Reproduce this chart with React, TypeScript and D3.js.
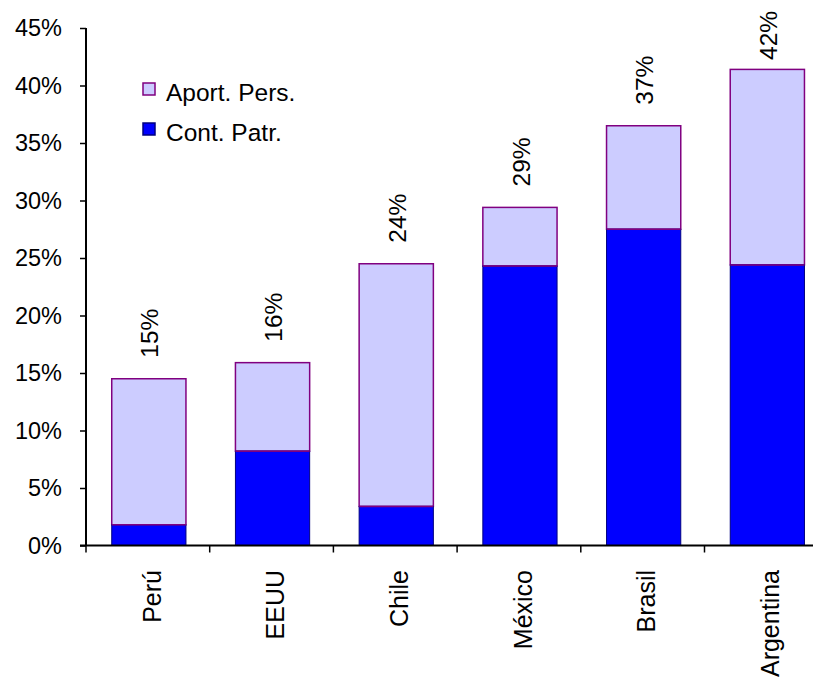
import { useEffect, useRef } from 'react'
import * as d3 from 'd3'

const COUNTRIES = ['Perú', 'EEUU', 'Chile', 'México', 'Brasil', 'Argentina']
// Contribución patronal (%)
const CONT_PATR = [1.8, 8.2, 3.4, 24.3, 27.5, 24.4]
// Aporte personal (%)
const APORT_PERS = [12.7, 7.7, 21.1, 5.1, 9.0, 17.0]
const TOTAL_LABELS = ['15%', '16%', '24%', '29%', '37%', '42%']
const Y_TICKS = [0, 5, 10, 15, 20, 25, 30, 35, 40, 45]

const SERIES = [
  { name: 'Aport. Pers.', fill: '#CCCCFF', stroke: '#800080' },
  { name: 'Cont. Patr.', fill: '#0000FF', stroke: '#000080' },
]

const FONT = '"Liberation Sans", Arial, sans-serif'

export default function App() {
  const svgRef = useRef<SVGSVGElement>(null)
  const WIDTH = 813
  const HEIGHT = 681
  const X0 = 86
  const STEP = 123.7
  const Y_TOP = 28
  const Y_BASE = 545.5

  useEffect(() => {
    if (!svgRef.current) return
    const svg = d3.select(svgRef.current)
    svg.selectAll('*').remove()

    const x = d3.scaleBand<string>()
      .domain(COUNTRIES)
      .range([X0 + 1, X0 + 1 + STEP * COUNTRIES.length])
      .paddingInner(0.4)
      .paddingOuter(0.2)
    const y = d3.scaleLinear().domain([0, 45]).range([Y_BASE, Y_TOP])

    const rows = COUNTRIES.map((c, i) => ({
      country: c,
      cont: CONT_PATR[i],
      total: CONT_PATR[i] + APORT_PERS[i],
      label: TOTAL_LABELS[i],
    }))

    // stacked bars: aporte on top
    rows.forEach(r => {
      const bx = x(r.country)!
      const bw = x.bandwidth()
      svg.append('rect')
        .attr('x', bx).attr('y', y(r.total))
        .attr('width', bw).attr('height', y(r.cont) - y(r.total))
        .attr('fill', SERIES[0].fill)
        .attr('stroke', SERIES[0].stroke).attr('stroke-width', 1.5)
      svg.append('rect')
        .attr('x', bx).attr('y', y(r.cont))
        .attr('width', bw).attr('height', y(0) - y(r.cont))
        .attr('fill', SERIES[1].fill)
        .attr('stroke', SERIES[1].stroke).attr('stroke-width', 1)
      // divider drawn in purple like the reference
      svg.append('line')
        .attr('x1', bx).attr('x2', bx + bw)
        .attr('y1', y(r.cont)).attr('y2', y(r.cont))
        .attr('stroke', SERIES[0].stroke).attr('stroke-width', 1.5)

      // total label, rotated
      const ly = Math.max(y(r.total) - 21, 60)
      svg.append('text')
        .attr('transform', `translate(${bx + bw / 2 + 1},${ly}) rotate(-90)`)
        .attr('dy', '0.35em')
        .attr('font-family', FONT).attr('font-size', 24.5)
        .attr('fill', '#000')
        .text(r.label)
    })

    // y axis
    const yAxis = svg.append('g')
      .attr('transform', `translate(${X0},0)`)
      .call(d3.axisLeft(y).tickValues(Y_TICKS).tickSize(6).tickPadding(18)
        .tickFormat(d => `${d}%`))
    yAxis.select('.domain').attr('stroke', '#000').attr('stroke-width', 2)
      .attr('d', `M0,${Y_TOP}V${Y_BASE}`)
    yAxis.selectAll('.tick line').attr('stroke', '#000').attr('stroke-width', 1.5)
    yAxis.selectAll('text')
      .attr('font-family', FONT).attr('font-size', 23.5).attr('fill', '#000')

    // x axis: line plus boundary ticks
    svg.append('line')
      .attr('x1', X0 - 6).attr('x2', WIDTH)
      .attr('y1', Y_BASE).attr('y2', Y_BASE)
      .attr('stroke', '#000').attr('stroke-width', 2)
    d3.range(COUNTRIES.length + 1).forEach(i => {
      const tx = X0 + i * x.step()
      svg.append('line')
        .attr('x1', tx).attr('x2', tx)
        .attr('y1', Y_BASE).attr('y2', Y_BASE + 7)
        .attr('stroke', '#000').attr('stroke-width', 1.5)
    })
    COUNTRIES.forEach(c => {
      svg.append('text')
        .attr('transform', `translate(${x(c)! + x.bandwidth() / 2 + 3},570) rotate(-90)`)
        .attr('text-anchor', 'end').attr('dy', '0.35em')
        .attr('font-family', FONT).attr('font-size', 25)
        .attr('fill', '#000')
        .text(c)
    })

    // legend
    SERIES.forEach((s, i) => {
      const ly = 83 + i * 40
      svg.append('rect')
        .attr('x', 143).attr('y', ly).attr('width', 12).attr('height', 12)
        .attr('fill', s.fill).attr('stroke', s.stroke).attr('stroke-width', 1.5)
      svg.append('text')
        .attr('x', 166).attr('y', ly + 18)
        .attr('font-family', FONT).attr('font-size', 24.5)
        .attr('fill', '#000')
        .text(s.name)
    })
  }, [])

  return (
    <svg
      ref={svgRef}
      width={WIDTH}
      height={HEIGHT}
      style={{ position: 'absolute', left: 0, top: 0, background: '#fff' }}
    />
  )
}
